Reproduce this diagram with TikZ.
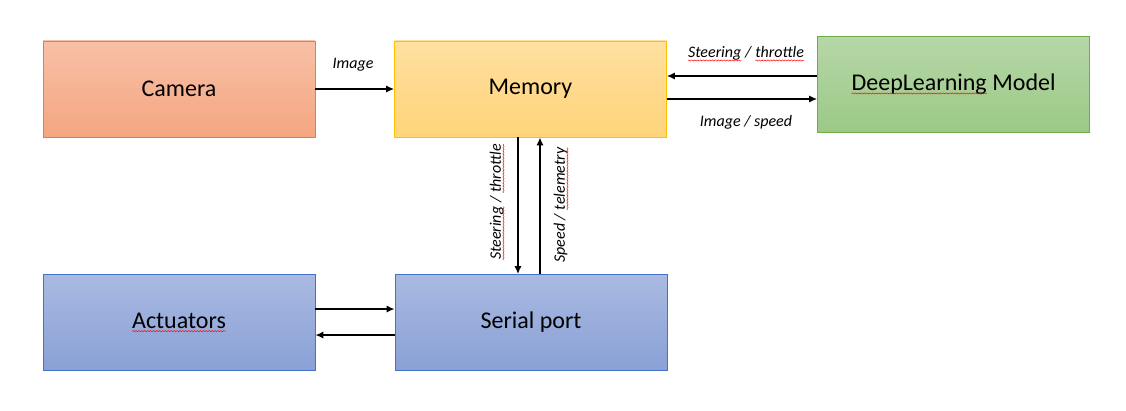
\documentclass[tikz,border=0pt]{standalone}
\usepackage{fontspec}
\setmainfont{Carlito}
\usepackage{tikz}
\usetikzlibrary{arrows.meta, decorations.pathmorphing}
\definecolor{camBorder}{HTML}{ED7D31}
\definecolor{memBorder}{HTML}{FFC000}
\definecolor{dlBorder}{HTML}{70AD47}
\definecolor{ioBorder}{HTML}{4472C4}

% red wavy spell-check underline
\newcommand{\spell}[1]{\tikz[baseline=(w.base)]{%
    \node[inner sep=0pt, outer sep=0pt, draw=none, fill=none] (w) {#1};
    \draw[red, line width=0.35pt, decorate,
          decoration={snake, amplitude=0.45pt, segment length=2.2pt}]
          ([yshift=-2pt]w.base west) -- ([yshift=-2pt]w.base east);}}

\begin{document}
\begin{tikzpicture}[x=0.75pt, y=-0.75pt,
    block/.style={minimum width=204pt, minimum height=72pt, inner sep=0pt,
                  line width=0.6pt, font=\fontsize{18}{21}\selectfont},
    flow/.style={line width=1.3pt, -{Latex[length=6pt, width=5.5pt]}},
    lbl/.style={font=\fontsize{12}{14}\selectfont\itshape}]
    \useasboundingbox (0,0) rectangle (1126,410);

    \node[block, draw=camBorder, top color={rgb,255:red,247;green,192;blue,167},
          bottom color={rgb,255:red,245;green,166;blue,128}] (camera) at (179,89) {Camera};
    \node[block, draw=memBorder, top color={rgb,255:red,255;green,224;blue,160},
          bottom color={rgb,255:red,255;green,212;blue,122}] (memory) at (530.5,89) {Memory};
    \node[block, draw=dlBorder, top color={rgb,255:red,182;green,215;blue,168},
          bottom color={rgb,255:red,156;green,201;blue,134}] (model) at (953.5,84.5) {};
    \node[font=\fontsize{18}{21}\selectfont] (modeltxt) at (model) {\spell{DeepLearning} Model};
    \node[block, draw=ioBorder, top color={rgb,255:red,169;green,185;blue,225},
          bottom color={rgb,255:red,138;green,161;blue,214}] (actuators) at (179,322.5) {};
    \node[font=\fontsize{18}{21}\selectfont] (acttxt) at (actuators) {\spell{Actuators}};
    \node[block, draw=ioBorder, top color={rgb,255:red,169;green,185;blue,225},
          bottom color={rgb,255:red,138;green,161;blue,214}] (serial) at (531,322.5) {Serial port};

    % camera to memory
    \draw[flow] (camera) -- (memory);
    \node[lbl] (imglbl) at (353,65) {Image};

    % memory <-> model
    \draw[flow] ([yshift=9.75pt]memory.east -| model.west) -- ([yshift=9.75pt]memory.east);
    \draw[flow] ([yshift=-7.5pt]memory.east) -- ([yshift=-7.5pt]memory.east -| model.west);
    \node[lbl] (cmdlbl) at (746,54) {\spell{Steering} / \spell{throttle}};
    \node[lbl] (inlbl) at (746,122) {Image / speed};

    % memory <-> serial port
    \draw[flow] ([xshift=-9.4pt]memory.south) -- ([xshift=-9.4pt]memory.south |- serial.north);
    \draw[flow] ([xshift=7.1pt]memory.south |- serial.north) -- ([xshift=7.1pt]memory.south);
    \node[lbl, rotate=90] (downlbl) at (497,202) {\spell{Steering} / \spell{throttle}};
    \node[lbl, rotate=90] (uplbl) at (561,205) {Speed / \spell{telemetry}};

    % actuators <-> serial port
    \draw[flow] ([yshift=10.1pt]actuators.east) -- ([yshift=10.1pt]actuators.east -| serial.west);
    \draw[flow] ([yshift=-9.4pt]actuators.east -| serial.west) -- ([yshift=-9.4pt]actuators.east);
\end{tikzpicture}
\end{document}
